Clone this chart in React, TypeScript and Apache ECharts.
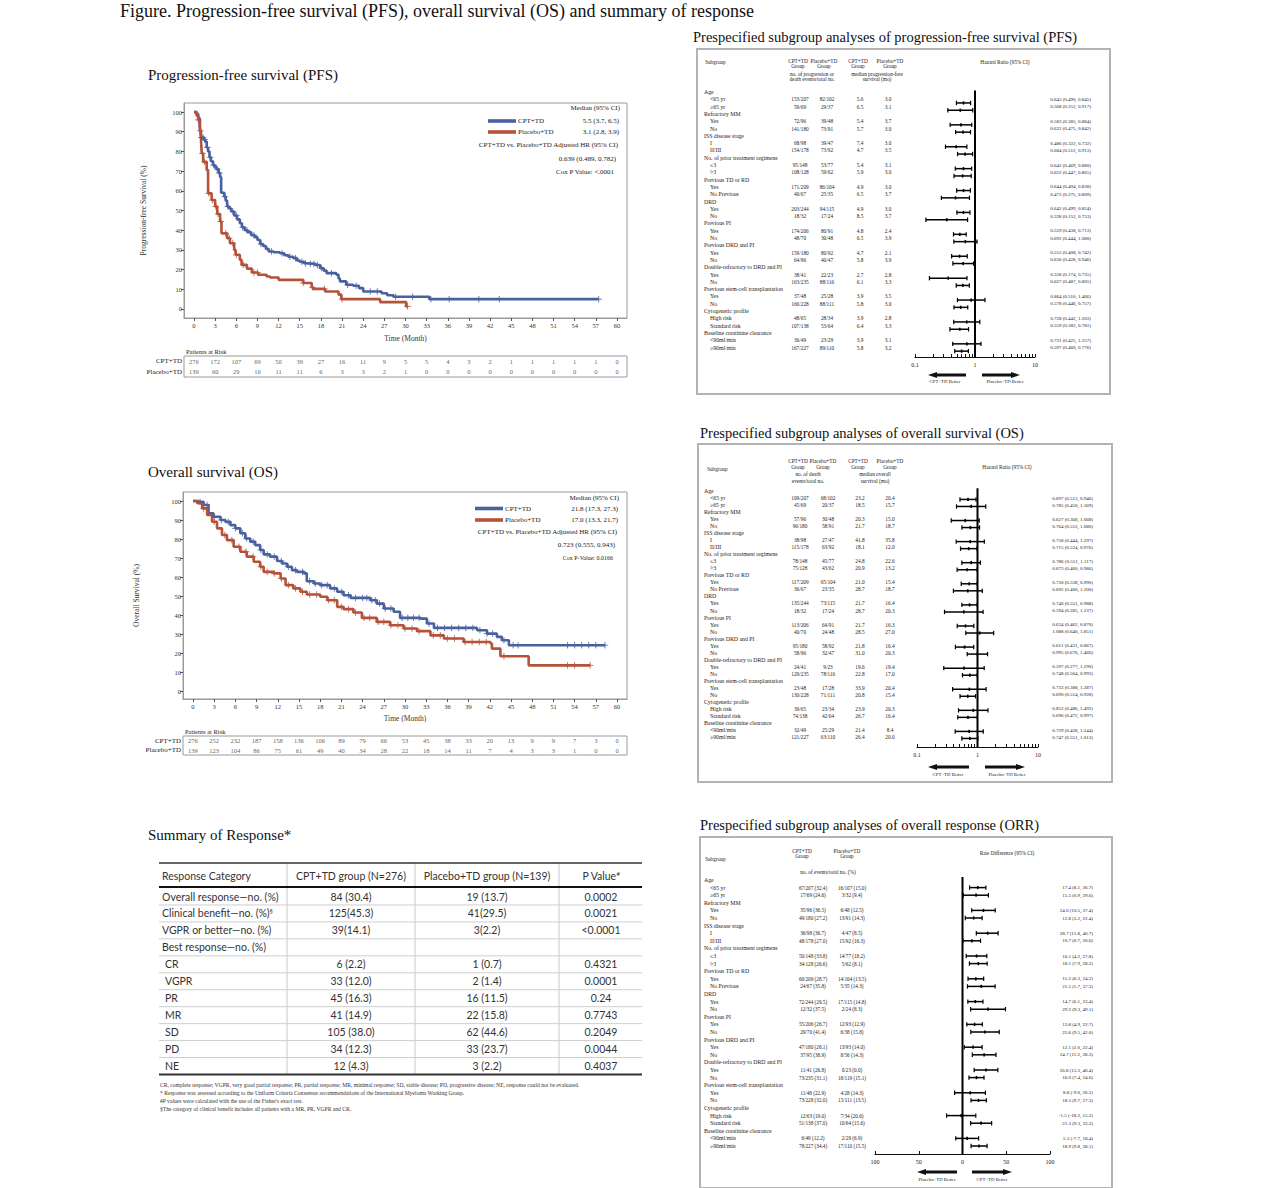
import React, { useEffect, useRef } from "react";
import * as echarts from "echarts";

const SERIF = "'Liberation Serif', 'Times New Roman', serif";
const SANS = "Lato, 'Open Sans', sans-serif";
const BLUE = "#4a61a0";
const RED = "#b5523a";
const FRAME = "#9a9a9a";

// ---------- KM data ----------
const timeTicks = [0, 3, 6, 9, 12, 15, 18, 21, 24, 27, 30, 33, 36, 39, 42, 45, 48, 51, 54, 57, 60];
const survTicks = [0, 10, 20, 30, 40, 50, 60, 70, 80, 90, 100];

const pfsCpt = [[0,100],[0.3,99],[0.6,97],[0.8,93],[0.9,90],[1.0,87],[1.4,86],[1.6,85],[1.8,82],[2.0,80],[2.2,77],[2.4,75],[2.7,73],[3.0,72],[3.2,71],[3.5,69],[3.7,67],[3.85,59],[4.3,57],[4.5,55],[4.7,52],[5.0,51],[5.3,49.5],[5.7,47.5],[6.1,45.5],[6.5,43.5],[6.8,41.5],[7.2,40],[7.6,39],[8.1,37.5],[8.6,36.5],[9.0,35],[9.4,33],[9.8,32],[10.2,30.5],[10.6,29.2],[11.3,28.8],[12.2,28.3],[12.8,27.3],[13.4,26.5],[14.1,25.8],[14.6,24.6],[15.0,24],[15.6,23.2],[16.0,22.9],[17.2,22.3],[17.9,20.7],[18.4,19.5],[18.8,18.2],[20.2,17.4],[20.5,15.5],[20.7,14],[21.6,12.3],[22.6,11.8],[23.4,10.6],[24.0,8.9],[26.6,8.0],[27.4,7.0],[28.3,6.2],[33.4,5.0],[57.4,5.0]];
const pfsPbo = [[0,100],[0.4,98],[0.6,96],[0.85,90.5],[1.0,85],[1.1,79],[1.3,74.7],[1.8,70.5],[2.0,58.7],[2.5,55.3],[3.0,52],[3.3,48.2],[3.7,44.4],[3.9,38.4],[4.7,35.9],[5.1,33.4],[5.7,30],[5.9,27.5],[6.5,25],[6.75,22.4],[7.5,20.5],[8.2,18.5],[9.1,17.4],[10.3,16.5],[10.8,16],[12.0,14.8],[15.5,13.2],[16.7,11],[16.9,10.2],[18.6,8.9],[20.5,7.3],[20.9,5.0],[26.4,3.5],[30.1,1.3],[30.3,1.3]];
const osCpt = [[0,100],[0.8,99.6],[1.5,97.9],[2.2,93.5],[2.9,91.7],[3.9,90],[4.6,89],[5.3,87.3],[6.0,85.6],[6.7,83],[7.4,80.3],[8.1,78.6],[8.8,76.8],[9.5,74.2],[10.0,71.9],[10.9,70.7],[11.9,68.4],[12.6,67.1],[13.3,65.4],[14.0,63.6],[14.7,62.7],[15.7,61.9],[16.1,57.8],[17.1,56.6],[18.0,55.7],[19.4,54],[20.4,52.2],[21.3,50.4],[22.3,49],[25.1,47.8],[26.0,46],[27.0,43.4],[28.4,41.7],[29.3,38.5],[32.2,38.1],[33.1,35.5],[34.1,33.2],[40.2,32],[41.6,30.2],[43.0,28.5],[43.7,26.7],[44.7,24.1],[58.3,24.1]];
const osPbo = [[0,100],[0.6,98.8],[1.3,96.1],[2.0,92.6],[2.7,89.1],[3.4,85.6],[4.1,82.1],[4.8,79.4],[5.75,75.9],[6.7,73.3],[7.6,70.7],[8.6,68],[9.5,65.4],[10.0,62.7],[11.4,61.9],[12.4,59.2],[13.1,55.7],[14.2,54],[15.2,52.2],[16.1,50.8],[18.0,49.6],[19.0,47.8],[20.4,44.3],[21.3,43.1],[22.7,41.3],[23.9,38.5],[26.0,36.4],[27.9,34.6],[29.8,32.9],[31.7,31.5],[33.6,29.3],[35.5,27.6],[38.3,25.8],[42.1,25],[42.3,22.3],[43.5,18.3],[47.5,13.5],[56.2,13.5]];

const pfsCptCensor = [1.05, 1.3, 1.5, 1.9, 2.3, 2.8, 3.3, 3.6, 4.4, 4.8, 5.5, 6.0, 6.9, 7.5, 8.5, 9.5, 11.0, 12.5, 13.6, 14.4, 15.3, 15.8, 16.5, 17.0, 17.5, 18.1, 19.5, 21.8, 23.0, 25.0, 26.0, 28.6, 31.0, 33.6, 36.2, 40.4, 43.3, 57.4];
const pfsPboCensor = [0.6, 0.9, 1.2, 1.5, 2.1, 2.6, 3.1, 3.4, 3.8, 4.5, 5.0, 5.5, 6.0, 7.0, 8.5, 9.0, 15.5, 16.8, 18.5, 21.0, 30.3];
const osCptCensor = [1, 2, 3, 4, 5, 6, 7, 7.6, 8.5, 9.6, 10.5, 11.5, 12.5, 13.5, 14.5, 15.5, 16.5, 17.3, 18.2, 19.0, 20.0, 21.0, 22.0, 23.0, 24.0, 24.6, 25.3, 25.8, 26.4, 27.2, 28.0, 29.6, 30.4, 31.2, 32.0, 33.4, 34.6, 35.6, 36.6, 37.6, 38.6, 39.6, 40.6, 41.6, 42.4, 44.0, 45.3, 46.0, 53.0, 54.0, 55.0, 56.0, 57.0, 58.3];
const osPboCensor = [1.5, 3.0, 4.5, 5.5, 6.5, 7.5, 8.5, 9.6, 10.5, 11.5, 12.5, 13.5, 14.5, 15.5, 16.5, 17.5, 19.2, 20.0, 21.0, 22.0, 23.0, 24.2, 25.0, 26.2, 27.0, 28.0, 29.0, 30.0, 31.0, 32.0, 34.0, 35.0, 36.0, 37.0, 38.5, 39.5, 40.5, 41.5, 44.0, 53.0, 54.0, 56.2];

const pfsRiskCpt = [276, 172, 107, 69, 50, 39, 27, 16, 11, 9, 5, 5, 4, 3, 2, 1, 1, 1, 1, 1, 0];
const pfsRiskPbo = [139, 60, 29, 16, 11, 11, 6, 3, 3, 2, 1, 0, 0, 0, 0, 0, 0, 0, 0, 0, 0];
const osRiskCpt = [276, 252, 232, 187, 158, 136, 106, 89, 79, 66, 53, 45, 38, 33, 20, 13, 9, 9, 7, 3, 0];
const osRiskPbo = [139, 123, 104, 86, 75, 61, 49, 40, 34, 28, 22, 18, 14, 11, 7, 4, 3, 3, 1, 0, 0];

// ---------- Forest data ----------
const subgroupRows = ["Age", "<65 yr", "≥65 yr", "Refractory MM", "Yes", "No", "ISS disease stage", "I", "II/III", "No. of prior treatment regimens", "≤3", ">3", "Previous TD or RD", "Yes", "No Previous", "DRD", "Yes", "No", "Previous PI", "Yes", "No", "Previous DRD and PI", "Yes", "No", "Double-refractory to DRD and PI", "Yes", "No", "Previous stem-cell transplantation", "Yes", "No", "Cytogenetic profile", "High risk", "Standard risk", "Baseline creatinine clearance", "<90ml/min", "≥90ml/min"];
const headerRows = [0, 3, 6, 9, 12, 15, 18, 21, 24, 27, 30, 33];

const pfsCptEvents = ["153/207","59/69","72/96","141/180","68/98","154/178","95/148","108/128","171/209","40/67","203/244","18/32","174/206","48/70","159/180","64/96","38/41","163/235","37/48","166/228","48/65","107/138","36/49","167/227"];
const pfsPboEvents = ["82/102","29/37","39/48","73/91","39/47","73/92","53/77","59/62","86/104","25/35","94/115","17/24","80/91","30/48","80/92","40/47","22/23","88/116","25/28","88/111","28/34","53/64","23/29","89/110"];
const pfsCptMedian = ["5.6","6.5","5.4","5.7","7.4","4.7","5.4","5.9","4.9","6.5","4.9","8.5","4.8","6.5","4.7","5.8","2.7","6.1","3.9","5.8","3.9","6.4","3.9","5.8"];
const pfsPboMedian = ["3.0","3.1","3.7","3.0","3.0","3.5","3.1","3.0","3.0","3.7","3.0","3.7","2.4","3.9","2.1","3.9","2.8","3.3","3.5","3.0","2.8","3.3","3.1","3.2"];
const pfsHR = [0.643,0.568,0.583,0.632,0.486,0.684,0.642,0.622,0.644,0.473,0.642,0.338,0.559,0.692,0.553,0.636,0.358,0.627,0.864,0.578,0.728,0.559,0.731,0.597];
const pfsLo = [0.490,0.352,0.385,0.475,0.322,0.512,0.469,0.447,0.494,0.275,0.499,0.152,0.438,0.444,0.408,0.428,0.174,0.487,0.510,0.446,0.442,0.382,0.425,0.460];
const pfsHi = [0.845,0.917,0.884,0.842,0.732,0.913,0.880,0.865,0.838,0.809,0.824,0.753,0.713,1.080,0.742,0.946,0.735,0.805,1.466,0.757,1.203,0.781,1.257,0.776];

const osCptEvents = ["109/207","45/69","57/96","96/180","38/98","115/178","78/148","75/128","117/209","36/67","135/244","18/32","113/206","40/70","95/180","58/96","24/41","129/235","23/48","130/228","39/65","74/138","32/49","121/227"];
const osPboEvents = ["68/102","20/37","30/48","58/91","27/47","63/92","45/77","43/62","65/104","23/35","73/115","17/24","64/91","24/48","58/92","32/47","9/23","78/116","17/28","71/111","23/34","42/64","25/29","63/110"];
const osCptMedian = ["23.2","18.5","20.3","21.7","41.8","18.1","24.8","20.9","21.0","28.7","21.7","28.7","21.7","28.5","21.8","31.0","19.6","22.8","33.9","20.8","23.9","26.7","21.4","26.4"];
const osPboMedian = ["20.4","15.7","15.0","18.7","35.8","12.0","22.6","13.2","15.4","18.7","16.4","20.3","16.3","27.0","16.4","20.3","19.4","17.0","20.4","15.4","20.3","16.4","8.4","20.0"];
const osHR = [0.697,0.785,0.627,0.764,0.758,0.715,0.786,0.673,0.730,0.692,0.740,0.594,0.634,1.088,0.611,0.995,0.597,0.748,0.733,0.690,0.852,0.696,0.729,0.747];
const osLo = [0.513,0.450,0.368,0.553,0.444,0.524,0.551,0.460,0.538,0.400,0.551,0.285,0.462,0.640,0.431,0.676,0.277,0.564,0.388,0.514,0.486,0.472,0.428,0.551];
const osHi = [0.946,1.369,1.068,1.080,1.297,0.976,1.117,0.986,0.990,1.200,0.988,1.237,0.870,1.851,0.867,1.466,1.290,0.993,1.387,0.928,1.492,0.997,1.244,1.013];

const orrCpt = ["67/207 (32.4)","17/69 (24.6)","35/96 (36.5)","49/180 (27.2)","36/98 (36.7)","48/178 (27.0)","50/148 (33.8)","34/128 (26.6)","60/209 (28.7)","24/67 (35.8)","72/244 (29.5)","12/32 (37.5)","55/206 (26.7)","29/70 (41.4)","47/180 (26.1)","37/95 (38.9)","11/41 (26.8)","73/235 (31.1)","11/48 (22.9)","73/228 (32.0)","12/63 (19.0)","51/138 (37.0)","6/49 (12.2)","78/227 (34.4)"];
const orrPbo = ["16/107 (15.0)","3/32 (9.4)","6/48 (12.5)","13/91 (14.3)","4/47 (8.5)","15/92 (16.3)","14/77 (18.2)","5/62 (8.1)","14/104 (13.5)","5/35 (14.3)","17/115 (14.8)","2/24 (8.3)","12/93 (12.9)","6/38 (15.8)","13/93 (14.0)","8/56 (14.3)","0/23 (0.0)","18/119 (15.1)","4/28 (14.3)","15/111 (13.5)","7/34 (20.6)","10/64 (15.6)","2/29 (6.9)","17/110 (15.5)"];
const orrRD = [17.4,15.5,24.0,12.8,28.7,10.7,16.1,18.1,15.2,21.5,14.7,29.2,13.8,25.6,12.1,24.7,26.8,16.0,8.8,18.3,-1.5,21.3,5.3,18.9];
const orrLo = [8.1,0.9,10.5,3.2,15.8,0.7,4.2,7.9,6.3,5.7,6.1,9.3,4.9,9.5,2.0,11.2,13.3,7.4,-9.0,9.7,-18.2,9.3,-7.7,9.8];
const orrHi = [26.7,29.6,37.4,22.4,40.7,20.6,27.8,28.2,24.2,37.3,23.4,49.1,22.7,42.0,22.4,38.3,40.4,24.6,26.2,27.3,15.2,33.3,18.4,28.1];

const logTicks = [0.1,0.2,0.3,0.4,0.5,0.6,0.7,0.8,0.9,1,2,3,4,5,6,7,8,9,10];
const logLabels = [0.1, 1, 10];
const rdTicks = [-100, -50, 0, 50, 100];

// ---------- Response table ----------
const respCategories = ["Overall response—no. (%)", "Clinical benefit—no. (%)", "VGPR or better—no. (%)", "Best response—no. (%)", "CR", "VGPR", "PR", "MR", "SD", "PD", "NE"];
const respCpt = ["84 (30.4)", "125(45.3)", "39(14.1)", "", "6 (2.2)", "33 (12.0)", "45 (16.3)", "41 (14.9)", "105 (38.0)", "34 (12.3)", "12 (4.3)"];
const respPbo = ["19 (13.7)", "41(29.5)", "3(2.2)", "", "1 (0.7)", "2 (1.4)", "16 (11.5)", "22 (15.8)", "62 (44.6)", "33 (23.7)", "3 (2.2)"];
const respP = ["0.0002", "0.0021", "<0.0001", "", "0.4321", "0.0001", "0.24", "0.7743", "0.2049", "0.0044", "0.4037"];
const respHeaders = ["Response Category", "CPT+TD group (N=276)", "Placebo+TD group (N=139)", "P Value"];
const footnotes = [
  "CR, complete response; VGPR, very good partial response; PR, partial response; MR, minimal response; SD, stable disease; PD, progressive disease; NE, response could not be evaluated.",
  "* Response was assessed according to the Uniform Criteria Consensus recommendations of the International Myeloma Working Group.",
  "#P values were calculated with the use of the Fisher's exact test.",
  "§The category of clinical benefit includes all patients with a MR, PR, VGPR and CR.",
];

function stepAt(curve: number[][], t: number) {
  let v = curve[0][1];
  for (const p of curve) {
    if (p[0] <= t) v = p[1];
    else break;
  }
  return v;
}

function txt(x: number, y: number, text: string, fontSize: number, o: any = {}) {
  const align = o.align || "left";
  const va = o.va || "middle";
  return {
    type: "text", x, y, silent: true, z: 10,
    style: {
      text, fontSize, fontFamily: o.family || SERIF, fill: o.color || "#222",
      textAlign: align, textVerticalAlign: va, align, verticalAlign: va,
      fontWeight: o.weight || "normal", rich: o.rich,
    },
  };
}
function hline(x1: number, x2: number, y: number, color: string, w: number) {
  return { type: "line", silent: true, shape: { x1, y1: y, x2, y2: y }, style: { stroke: color, lineWidth: w } };
}
function vline(x: number, y1: number, y2: number, color: string, w: number) {
  return { type: "line", silent: true, shape: { x1: x, y1, x2: x, y2 }, style: { stroke: color, lineWidth: w } };
}
function arrow(x1: number, x2: number, y: number, dir: "left" | "right") {
  const hl = 9, hh = 3, bh = 1.6;
  const pts = dir === "left"
    ? [[x1, y], [x1 + hl, y - hh], [x1 + hl, y - bh], [x2, y - bh], [x2, y + bh], [x1 + hl, y + bh], [x1 + hl, y + hh]]
    : [[x2, y], [x2 - hl, y - hh], [x2 - hl, y - bh], [x1, y - bh], [x1, y + bh], [x2 - hl, y + bh], [x2 - hl, y + hh]];
  return { type: "polygon", silent: true, shape: { points: pts }, style: { fill: "#111" } };
}

function buildOption() {
  const grid: any[] = [];
  const xAxis: any[] = [];
  const yAxis: any[] = [];
  const series: any[] = [];
  const g: any[] = [];
  const refLines: any[] = [];

  const plus = "path://M0,5L10,5M5,0L5,10";

  function addKM(c: any) {
    const gi = grid.length;
    grid.push({ left: c.left, top: c.top, width: c.right - c.left, height: c.bottom - c.top, show: true, borderColor: FRAME, borderWidth: 1, containLabel: false });
    xAxis.push({
      gridIndex: gi, type: "value", min: c.xMin, max: c.xMax,
      axisLine: { show: true, onZero: false, lineStyle: { color: FRAME } },
      axisTick: { show: true, customValues: timeTicks, length: 3, lineStyle: { color: "#555" } },
      axisLabel: { customValues: timeTicks, fontSize: 6.5, margin: 4, color: "#333", fontFamily: SERIF },
      splitLine: { show: false },
      name: "Time (Month)", nameLocation: "middle", nameGap: c.xNameGap,
      nameTextStyle: { fontSize: 7.5, fontFamily: SERIF, color: "#333" },
    });
    yAxis.push({
      gridIndex: gi, type: "value", min: c.yMin, max: c.yMax,
      axisLine: { show: true, onZero: false, lineStyle: { color: FRAME } },
      axisTick: { show: true, customValues: survTicks, length: 3, lineStyle: { color: "#555" } },
      axisLabel: { customValues: survTicks, fontSize: 6.5, margin: 2, color: "#333", fontFamily: SERIF },
      splitLine: { show: false },
      name: c.yName, nameLocation: "middle", nameGap: c.yNameGap, nameRotate: 90,
      nameTextStyle: { fontSize: 7.5, fontFamily: SERIF, color: "#333" },
    });
    const lines = [[c.cpt, BLUE, c.cptC], [c.pbo, RED, c.pboC]];
    lines.forEach(([curve, color, cens]: any) => {
      series.push({
        type: "line", xAxisIndex: gi, yAxisIndex: gi, data: curve, step: "end", symbol: "none",
        lineStyle: { color, width: 2.6 }, silent: true, z: 3,
      });
      series.push({
        type: "scatter", xAxisIndex: gi, yAxisIndex: gi,
        data: cens.map((t: number) => [t, stepAt(curve, t)]),
        symbol: plus, symbolSize: 6.5,
        itemStyle: { color: "rgba(0,0,0,0)", borderColor: color, borderWidth: 1 }, silent: true, z: 4,
      });
    });
    // risk table
    const ri = grid.length;
    grid.push({ left: c.left, top: c.riskTop, width: c.right - c.left, height: c.riskBottom - c.riskTop, show: true, borderColor: FRAME, borderWidth: 1, containLabel: false });
    xAxis.push({ gridIndex: ri, type: "value", min: c.xMin, max: c.xMax, show: false });
    yAxis.push({
      gridIndex: ri, type: "category", data: ["CPT+TD", "Placebo+TD"], inverse: true,
      axisLine: { show: false }, axisTick: { show: false },
      axisLabel: { interval: 0, fontSize: 7, margin: 2, color: "#222", fontFamily: SERIF },
    });
    const rd: any[] = [];
    timeTicks.forEach((t, i) => {
      rd.push([t, "CPT+TD", c.riskCpt[i]]);
      rd.push([t, "Placebo+TD", c.riskPbo[i]]);
    });
    series.push({
      type: "scatter", xAxisIndex: ri, yAxisIndex: ri, data: rd, symbolSize: 1,
      itemStyle: { color: "rgba(0,0,0,0)" }, silent: true,
      label: { show: true, position: "inside", formatter: (p: any) => String(p.value[2]), fontSize: 6.5, color: "#333", fontFamily: SERIF },
    });
    g.push(txt(c.left + 2, c.riskTop - 5, "Patients at Risk", 6.5));
  }

  addKM({
    left: 184, top: 103, right: 627, bottom: 318, xMin: -1.418, xMax: 61.418, yMin: -4.57, yMax: 104.57,
    yName: "Progression-free Survival (%)", yNameGap: 37, xNameGap: 16,
    cpt: pfsCpt, pbo: pfsPbo, cptC: pfsCptCensor, pboC: pfsPboCensor,
    riskTop: 356, riskBottom: 377, riskCpt: pfsRiskCpt, riskPbo: pfsRiskPbo,
  });
  addKM({
    left: 183, top: 492, right: 627, bottom: 699, xMin: -1.415, xMax: 61.415, yMin: -4.21, yMax: 104.74,
    yName: "Overall Survival (%)", yNameGap: 43, xNameGap: 15,
    cpt: osCpt, pbo: osPbo, cptC: osCptCensor, pboC: osPboCensor,
    riskTop: 736, riskBottom: 755, riskCpt: osRiskCpt, riskPbo: osRiskPbo,
  });

  const subIndex: Record<number, number> = {};
  const subRowOf: number[] = [];
  let k = 0;
  subgroupRows.forEach((_, i) => { if (!headerRows.includes(i)) { subIndex[i] = k++; subRowOf.push(i); } });
  const FS = 5.8;

  function addForest(c: any) {
    const gi = grid.length;
    const yMax = (c.axisY - c.rowY0) / c.dy;
    const top = c.rowY0 + c.minRow * c.dy;
    grid.push({ left: c.left, top, width: c.width, height: c.axisY - top, show: false, containLabel: false });
    const common = {
      gridIndex: gi, position: "bottom",
      axisLine: { show: true, onZero: false, lineStyle: { color: "#111", width: 1 } },
      splitLine: { show: false },
    };
    if (c.log) {
      xAxis.push({
        ...common, type: "log", logBase: 10, min: 0.1, max: 10,
        axisTick: { show: true, inside: true, length: 3, customValues: logTicks, lineStyle: { color: "#111" } },
        axisLabel: { customValues: logLabels, fontSize: 6, margin: 5, color: "#222", fontFamily: SERIF, formatter: (v: number) => String(v) },
        minorTick: { show: false },
      });
    } else {
      xAxis.push({
        ...common, type: "value", min: -100, max: 100,
        axisTick: { show: true, inside: true, length: 3, customValues: rdTicks, lineStyle: { color: "#111" } },
        axisLabel: { customValues: rdTicks, fontSize: 6, margin: 5, color: "#222", fontFamily: SERIF, formatter: (v: number) => String(Math.abs(v)) },
      });
    }
    yAxis.push({ gridIndex: gi, type: "value", inverse: true, min: c.minRow, max: yMax, show: false, axisLine: { onZero: false } });
    refLines.push({ gi, x: c.refX, y1: c.minRow, y2: yMax });

    // CI bars
    const ciData = c.est.map((e: number, j: number) => [e, c.lo[j], c.hi[j], subRowOf[j] + c.barOff]);
    series.push({
      type: "custom", xAxisIndex: gi, yAxisIndex: gi, data: ciData, clip: false, silent: true, z: 3,
      encode: { x: [0, 1, 2], y: 3 },
      renderItem: (_p: any, api: any) => {
        const r = api.value(3);
        const pe = api.coord([api.value(0), r]);
        const pl = api.coord([api.value(1), r]);
        const ph = api.coord([api.value(2), r]);
        const y = pe[1];
        const st = { stroke: "#000", lineWidth: 1.5 };
        return {
          type: "group",
          children: [
            { type: "line", shape: { x1: pl[0], y1: y, x2: ph[0], y2: y }, style: st },
            { type: "line", shape: { x1: pl[0], y1: y - 2.2, x2: pl[0], y2: y + 2.2 }, style: { stroke: "#000", lineWidth: 1.2 } },
            { type: "line", shape: { x1: ph[0], y1: y - 2.2, x2: ph[0], y2: y + 2.2 }, style: { stroke: "#000", lineWidth: 1.2 } },
            { type: "rect", shape: { x: pe[0] - 0.8, y: y - 1.6, width: 1.6, height: 3.2 }, style: { fill: "#000" } },
          ],
        };
      },
    });
    // text columns
    series.push({
      type: "custom", xAxisIndex: gi, yAxisIndex: gi, clip: false, silent: true, z: 5,
      data: subgroupRows.map((_, i) => [c.refX, i]),
      encode: { x: 0, y: 1 },
      renderItem: (p: any, api: any) => {
        const i = p.dataIndex;
        const y = api.coord([c.refX, i])[1];
        const isHeader = headerRows.includes(i);
        const children: any[] = [txt(isHeader ? c.headerX : c.subX, y, subgroupRows[i], FS)];
        if (!isHeader) {
          const j = subIndex[i];
          c.cols.forEach((col: any) => children.push(txt(col.x, y, col.vals[j], col.fs, { align: col.align })));
        }
        return { type: "group", children };
      },
    });
  }

  const fmt3 = (e: number[], lo: number[], hi: number[]) => e.map((v, i) => `${v.toFixed(3)} (${lo[i].toFixed(3)}, ${hi[i].toFixed(3)})`);
  const fmt1 = (e: number[], lo: number[], hi: number[]) => e.map((v, i) => `${v.toFixed(1)} (${lo[i].toFixed(1)}, ${hi[i].toFixed(1)})`);

  addForest({
    log: true, left: 915, width: 120, rowY0: 92, dy: 7.3, axisY: 357, minRow: -0.2, barOff: 0.5, refX: 1,
    headerX: 704, subX: 710,
    cols: [
      { x: 800, align: "center", vals: pfsCptEvents, fs: 5.3 },
      { x: 827, align: "center", vals: pfsPboEvents, fs: 5.3 },
      { x: 860, align: "center", vals: pfsCptMedian, fs: 5.3 },
      { x: 888, align: "center", vals: pfsPboMedian, fs: 5.3 },
      { x: 1091, align: "right", vals: fmt3(pfsHR, pfsLo, pfsHi), fs: 5.0 },
    ],
    est: pfsHR, lo: pfsLo, hi: pfsHi,
  });
  addForest({
    log: true, left: 917, width: 121, rowY0: 491, dy: 7.03, axisY: 747, minRow: -0.4, barOff: 0.2, refX: 1,
    headerX: 704, subX: 710,
    cols: [
      { x: 800, align: "center", vals: osCptEvents, fs: 5.3 },
      { x: 828, align: "center", vals: osPboEvents, fs: 5.3 },
      { x: 860, align: "center", vals: osCptMedian, fs: 5.3 },
      { x: 890, align: "center", vals: osPboMedian, fs: 5.3 },
      { x: 1093, align: "right", vals: fmt3(osHR, osLo, osHi), fs: 5.0 },
    ],
    est: osHR, lo: osLo, hi: osHi,
  });
  addForest({
    log: false, left: 875, width: 175, rowY0: 880, dy: 7.6, axisY: 1154, minRow: -0.4, barOff: 0, refX: 0,
    headerX: 704, subX: 710,
    cols: [
      { x: 813, align: "center", vals: orrCpt, fs: 5.2 },
      { x: 852, align: "center", vals: orrPbo, fs: 5.2 },
      { x: 1093, align: "right", vals: fmt1(orrRD, orrLo, orrHi), fs: 5.0 },
    ],
    est: orrRD, lo: orrLo, hi: orrHi,
  });

  // ---------- graphic: titles ----------
  g.push(txt(120, 10.5, "Figure. Progression-free survival (PFS), overall survival (OS) and summary of response", 18, { color: "#111" }));
  g.push(txt(148, 75, "Progression-free survival (PFS)", 15, { color: "#111" }));
  g.push(txt(148, 472, "Overall survival (OS)", 15, { color: "#111" }));
  g.push(txt(148, 835, "Summary of Response*", 15, { color: "#111" }));
  g.push(txt(693, 37, "Prespecified subgroup analyses of progression-free survival (PFS)", 14.5, { color: "#111" }));
  g.push(txt(700, 433, "Prespecified subgroup analyses of overall survival (OS)", 14.5, { color: "#111" }));
  g.push(txt(700, 825, "Prespecified subgroup analyses of overall response (ORR)", 14.5, { color: "#111" }));

  // ---------- KM legends ----------
  const LF = 7;
  function kmLegend(c: any) {
    g.push(txt(c.rx, c.y0, "Median (95% CI)", LF, { align: "right" }));
    g.push({ type: "rect", silent: true, shape: { x: c.lx, y: c.y1 - 1.8, width: 28, height: 3.6 }, style: { fill: BLUE } });
    g.push(txt(c.lx + 30, c.y1, "CPT+TD", LF));
    g.push(txt(c.rx - 1, c.y1, c.m1, LF, { align: "right" }));
    g.push({ type: "rect", silent: true, shape: { x: c.lx, y: c.y2 - 1.8, width: 28, height: 3.6 }, style: { fill: RED } });
    g.push(txt(c.lx + 30, c.y2, "Placebo+TD", LF));
    g.push(txt(c.rx - 1, c.y2, c.m2, LF, { align: "right" }));
    g.push(txt(c.rx - 2, c.y3, "CPT+TD vs. Placebo+TD Adjusted HR (95% CI)", LF, { align: "right" }));
    g.push(txt(c.rx - 4, c.y4, c.hr, LF, { align: "right" }));
    g.push(txt(c.rx - 6, c.y5, c.p, c.pf, { align: "right" }));
  }
  kmLegend({ rx: 620, lx: 488, y0: 108, y1: 121, y2: 132, y3: 145, y4: 159, y5: 172, m1: "5.5 (3.7, 6.5)", m2: "3.1 (2.8, 3.9)", hr: "0.639 (0.489, 0.782)", p: "Cox P Value: <.0001", pf: 7 });
  kmLegend({ rx: 619, lx: 475, y0: 498, y1: 508.5, y2: 520, y3: 532, y4: 545, y5: 558, m1: "21.8 (17.3, 27.3)", m2: "17.0 (13.3, 21.7)", hr: "0.723 (0.555, 0.943)", p: "Cox P-Value: 0.0166", pf: 6 });

  // ---------- forest frames & headers ----------
  const frame = (x: number, y: number, w: number, h: number) => ({ type: "rect", silent: true, shape: { x, y, width: w, height: h }, style: { fill: "none", stroke: "#b3b3b3", lineWidth: 2 } });
  g.push(frame(697, 49, 413, 345));
  g.push(frame(698, 444, 414, 338));
  g.push(frame(700, 837, 412, 351));
  const c = { align: "center" };
  const HF = 5.3;
  // PFS headers
  g.push(txt(705, 62, "Subgroup", HF));
  [[798, "CPT+TD"], [824, "Placebo+TD"], [858, "CPT+TD"], [890, "Placebo+TD"]].forEach(([x, t]: any) => {
    g.push(txt(x, 61, t, HF, c)); g.push(txt(x, 65.5, "Group", HF, c));
  });
  g.push(txt(812, 74, "no. of progression or", HF, c));
  g.push(txt(812, 78.5, "death events/total no.", HF, c));
  g.push(txt(877, 74, "median progression-free", HF, c));
  g.push(txt(877, 78.5, "survival (mo)", HF, c));
  g.push(txt(1005, 62, "Hazard Ratio (95% CI)", HF, c));
  // OS headers
  g.push(txt(707, 469, "Subgroup", HF));
  [[798, "CPT+TD"], [823, "Placebo+TD"], [858, "CPT+TD"], [890, "Placebo+TD"]].forEach(([x, t]: any) => {
    g.push(txt(x, 461, t, HF, c)); g.push(txt(x, 467, "Group", HF, c));
  });
  g.push(txt(808, 474, "no. of death", HF, c));
  g.push(txt(808, 481, "events/total no.", HF, c));
  g.push(txt(875, 474, "median overall", HF, c));
  g.push(txt(875, 481, "survival (mo)", HF, c));
  g.push(txt(1007, 467, "Hazard Ratio (95% CI)", HF, c));
  // ORR headers
  g.push(txt(705, 859, "Subgroup", HF));
  [[802, "CPT+TD"], [847, "Placebo+TD"]].forEach(([x, t]: any) => {
    g.push(txt(x, 851, t, HF, c)); g.push(txt(x, 856, "Group", HF, c));
  });
  g.push(txt(828, 872, "no. of events/total no. (%)", HF, c));
  g.push(txt(1007, 853, "Rate Difference (95% CI)", HF, c));
  // arrows
  g.push(arrow(928, 966, 375, "left")); g.push(arrow(982, 1020, 375, "right"));
  g.push(txt(945, 381.5, "CPT+TD Better", 4.8, c)); g.push(txt(1005, 381.5, "Placebo+TD Better", 4.8, c));
  g.push(arrow(928, 969, 767, "left")); g.push(arrow(985, 1025, 767, "right"));
  g.push(txt(948, 774, "CPT+TD Better", 4.8, c)); g.push(txt(1007, 774, "Placebo+TD Better", 4.8, c));
  g.push(arrow(917, 957, 1172, "left")); g.push(arrow(972, 1012, 1172, "right"));
  g.push(txt(937, 1179, "Placebo+TD Better", 4.8, c)); g.push(txt(992, 1179, "CPT+TD Better", 4.8, c));

  // ---------- response table ----------
  const tL = 159, tR = 642, tTop = 863, hdrY = 876, hdrLine = 887, row0 = 896.5, rowH = 16.95;
  const tBottom = row0 + rowH * (respCategories.length - 1) + 8.5;
  const colSep = [287, 415, 559];
  const colC = [351, 487, 601];
  const TF = 10.5;
  const TC = "#333";
  const sup = { s: { fontSize: 6, fontFamily: SANS, fill: TC, verticalAlign: "top", padding: [0, 0, 5, 0] } };
  colSep.forEach((x) => g.push(vline(x, tTop, tBottom, "#c9c9c9", 1)));
  for (let i = 0; i < respCategories.length - 1; i++) g.push(hline(tL, tR, row0 + rowH * i + rowH / 2, "#cfcfcf", 1));
  g.push(hline(tL, tR, tTop, "#333", 1.6));
  g.push(hline(tL, tR, hdrLine, "#111", 2));
  g.push(hline(tL, tR, tBottom, "#333", 2));
  g.push(txt(162, hdrY, respHeaders[0], TF, { family: SANS, color: TC }));
  g.push(txt(colC[0], hdrY, respHeaders[1], TF, { family: SANS, color: TC, align: "center" }));
  g.push(txt(colC[1], hdrY, respHeaders[2], TF, { family: SANS, color: TC, align: "center" }));
  g.push(txt(colC[2], hdrY, respHeaders[3] + "{s|#}", TF, { family: SANS, color: TC, align: "center", rich: sup }));
  respCategories.forEach((cat, i) => {
    const y = row0 + rowH * i;
    const label = i === 1 ? cat + "{s|§}" : cat;
    g.push(txt(i >= 4 ? 165 : 162, y, label, TF, { family: SANS, color: TC, rich: i === 1 ? sup : undefined }));
    g.push(txt(colC[0], y, respCpt[i], TF, { family: SANS, color: TC, align: "center" }));
    g.push(txt(colC[1], y, respPbo[i], TF, { family: SANS, color: TC, align: "center" }));
    g.push(txt(colC[2], y, respP[i], TF, { family: SANS, color: TC, align: "center" }));
  });
  footnotes.forEach((f, i) => g.push(txt(160, 1085 + i * 8, f, 5.6, { color: "#333" })));

  const option = {
    animation: false,
    backgroundColor: "#ffffff",
    textStyle: { fontFamily: SERIF },
    grid, xAxis, yAxis, series,
    graphic: { elements: g },
  };
  return { option, refLines, graphicEls: g };
}

export default function App() {
  const ref = useRef<HTMLDivElement>(null);
  useEffect(() => {
    const chart = echarts.init(ref.current!, undefined, { renderer: "svg", width: 1269, height: 1188 });
    const { option, refLines, graphicEls } = buildOption();
    chart.setOption(option as any);
    // no-effect reference lines, positioned through each forest grid's own axes
    const extra = refLines.map((r: any) => {
      const a = chart.convertToPixel({ xAxisIndex: r.gi, yAxisIndex: r.gi } as any, [r.x, r.y1]) as any;
      const b = chart.convertToPixel({ xAxisIndex: r.gi, yAxisIndex: r.gi } as any, [r.x, r.y2]) as any;
      return { type: "rect", silent: true, z: 4, shape: { x: a[0] - 1, y: Math.min(a[1], b[1]), width: 2, height: Math.abs(b[1] - a[1]) }, style: { fill: "#000" } };
    });
    chart.setOption({ graphic: { elements: [...graphicEls, ...extra] } } as any);
    return () => chart.dispose();
  }, []);
  return <div ref={ref} style={{ position: "absolute", left: 0, top: 0, width: 1269, height: 1188, background: "#fff" }} />;
}
